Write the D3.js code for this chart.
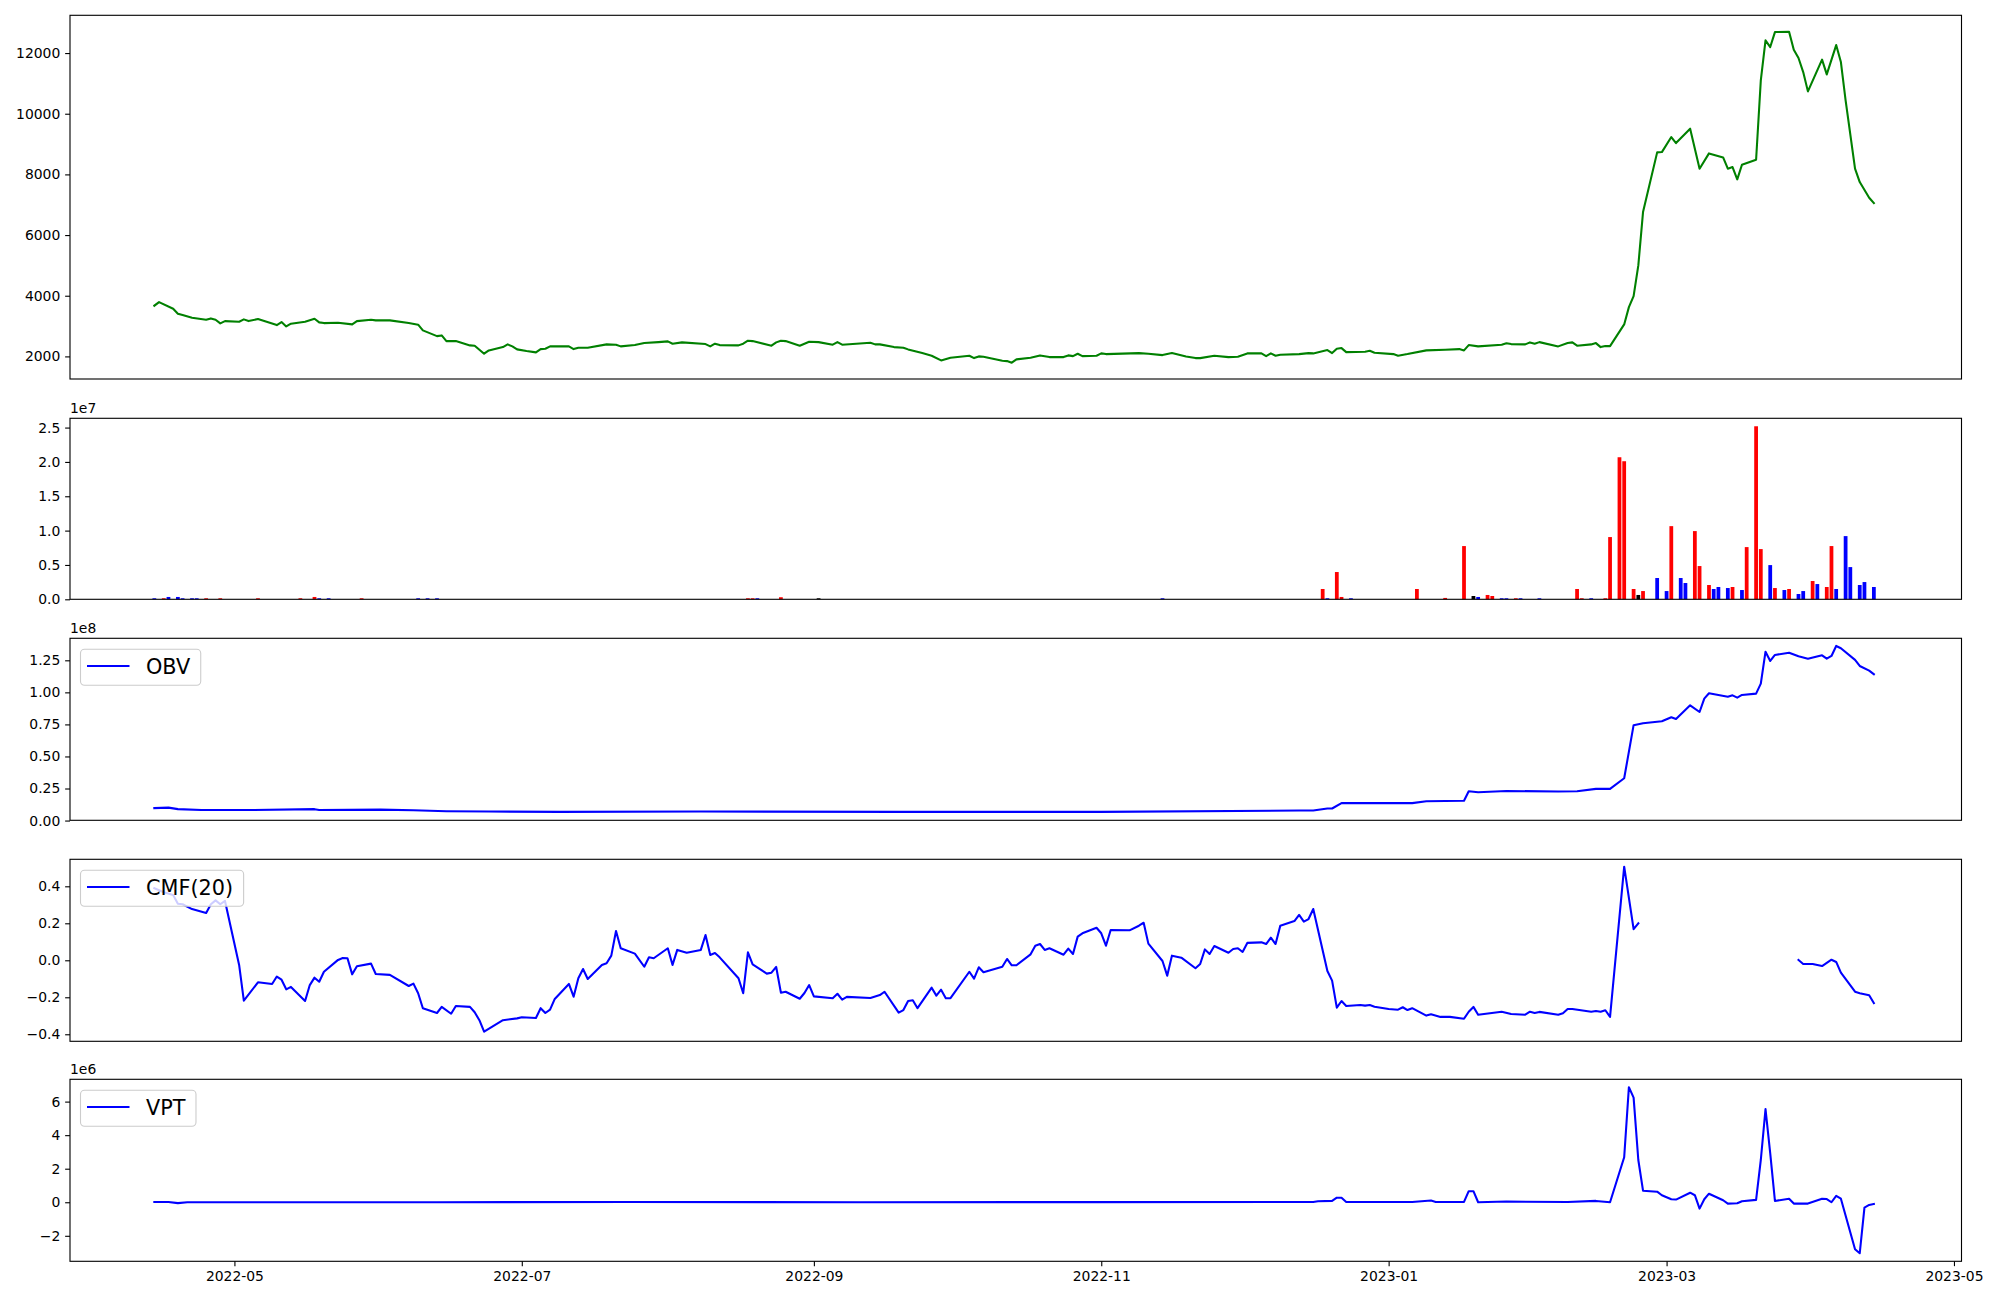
<!DOCTYPE html>
<html><head><meta charset="utf-8">
<script src="https://cdn.jsdelivr.net/npm/d3@7"></script>
<style>body{margin:0;background:#fff}svg{display:block}text{font-family:"DejaVu Sans",sans-serif;fill:#000}</style>
</head><body><svg id="chart" width="2000" height="1300"></svg>
<script>
const startDate = "2022-04-14";
const xTickLabels = ["2022-05","2022-07","2022-09","2022-11","2023-01","2023-03","2023-05"];

const priceDay = [0,1,4,5,6,8,11,12,13,14,15,18,19,20,22,24,26,27,28,29,32,34,35,36,39,42,43,46,47,50,54,56,57,60,61,62,64,67,68,70,71,74,75,76,77,79,81,82,83,84,88,89,90,92,96,98,99,102,104,107,109,110,112,117,118,119,120,124,125,126,127,131,132,133,134,137,139,141,144,145,146,152,153,154,157,159,160,163,165,167,169,173,174,175,176,180,181,182,183,186,188,190,193,194,195,196,197,200,201,202,209,211,214,215,216,219,221,222,225,228,230,232,235,236,237,238,239,243,245,246,249,250,251,252,253,257,258,259,263,264,266,270,274,277,278,279,281,286,287,288,291,292,293,294,298,300,301,302,305,306,307,308,309,312,313,314,315,316,319,320,322,323,326,328,330,333,334,335,336,337,340,341,342,343,344,347,348,349,350,351,354,355,357,358,359,361,362,364,365];
const priceClose = [3672,3790,3572,3408,3362,3276,3209,3253,3209,3088,3164,3144,3220,3164,3230,3131,3032,3131,2989,3078,3144,3243,3121,3098,3111,3055,3164,3209,3187,3187,3098,3045,2857,2669,2692,2504,2504,2363,2353,2089,2198,2307,2396,2330,2231,2175,2132,2241,2254,2330,2330,2241,2287,2287,2396,2386,2330,2373,2439,2471,2495,2419,2462,2406,2330,2419,2373,2363,2419,2518,2504,2353,2462,2518,2504,2353,2485,2471,2386,2471,2386,2452,2396,2396,2307,2287,2231,2109,2023,1868,1957,2023,1944,2000,1990,1858,1845,1792,1901,1957,2033,1977,1977,2033,2010,2089,2010,2023,2099,2076,2109,2089,2043,2076,2109,2000,1944,1944,2023,1977,1990,2099,2099,2010,2099,2023,2056,2076,2109,2099,2208,2109,2254,2274,2142,2155,2188,2122,2076,2023,2076,2198,2221,2241,2198,2373,2330,2386,2435,2406,2396,2462,2419,2471,2330,2439,2462,2353,2396,2439,2307,2340,2340,3055,3625,3988,5000,6757,8726,8736,9231,9033,9507,8188,8693,8561,8188,8241,7836,8320,8485,11100,12418,12198,12692,12705,12112,11836,11373,10737,11782,11297,12264,11703,10440,8188,7747,7232,7054];

// volume in units of 1e7
const volumeDay = [0,2,3,5,6,8,9,11,14,22,31,34,35,37,44,56,58,60,126,127,128,133,141,214,248,249,251,252,254,268,274,278,280,281,283,284,286,287,289,290,294,302,303,305,308,309,311,312,314,315,316,319,321,322,324,325,327,328,330,331,332,334,335,337,338,340,341,343,344,346,347,349,350,352,353,355,356,357,359,360,362,363,365];
const volumeValue = [0.015,0.015,0.034,0.034,0.015,0.015,0.015,0.015,0.015,0.015,0.015,0.034,0.015,0.015,0.015,0.015,0.015,0.015,0.015,0.015,0.015,0.03,0.015,0.015,0.15,0.015,0.397,0.034,0.015,0.15,0.02,0.775,0.048,0.034,0.063,0.048,0.015,0.015,0.015,0.015,0.015,0.15,0.015,0.015,0.015,0.906,2.068,2.01,0.15,0.063,0.12,0.31,0.12,1.065,0.31,0.237,0.993,0.484,0.208,0.15,0.179,0.164,0.179,0.135,0.76,2.519,0.731,0.498,0.164,0.135,0.15,0.077,0.12,0.266,0.222,0.179,0.775,0.15,0.92,0.469,0.208,0.251,0.179];
const volumeColor = ["b","r","b","b","b","b","b","r","r","r","r","r","b","b","r","b","b","b","r","r","b","r","k","b","r","b","r","r","b","r","r","r","k","b","r","r","b","b","r","b","b","r","r","b","r","r","r","r","r","k","r","b","b","r","b","b","r","r","r","b","b","b","r","b","r","r","r","b","r","b","r","b","b","r","b","r","r","b","b","b","b","b","b"];

// OBV in units of 1e8
const obvDay = [0,3,5,10,20,34,35,48,55,62,71,86,116,158,201,243,246,249,250,252,267,270,278,279,281,287,298,302,306,309,312,314,316,320,322,323,326,328,329,330,334,335,336,337,340,341,342,343,344,347,349,351,354,355,356,357,358,361,362,364,365];
const obvValue = [0.097,0.101,0.089,0.083,0.082,0.089,0.082,0.085,0.08,0.073,0.07,0.068,0.07,0.068,0.068,0.078,0.078,0.094,0.094,0.136,0.136,0.151,0.154,0.229,0.221,0.231,0.226,0.229,0.247,0.247,0.33,0.744,0.759,0.775,0.806,0.793,0.899,0.847,0.951,0.993,0.966,0.977,0.959,0.98,0.99,1.068,1.317,1.245,1.292,1.309,1.281,1.263,1.289,1.263,1.284,1.362,1.344,1.253,1.206,1.169,1.141];

const cmfDay = [0,2,4,5,6,8,11,12,13,14,15,18,19,22,25,26,27,28,29,32,33,34,35,36,39,40,41,42,43,46,47,50,54,55,56,57,60,61,63,64,67,68,69,70,74,77,78,81,82,83,84,85,88,89,90,91,92,95,96,97,98,99,102,104,105,106,109,110,111,113,116,117,118,119,120,124,125,126,127,130,131,132,133,134,137,138,139,140,144,145,146,147,152,154,155,158,159,160,161,162,165,166,167,168,169,173,174,175,176,180,181,182,183,186,187,188,189,190,193,194,195,196,197,200,201,202,203,207,209,210,211,214,215,216,218,221,222,223,224,225,228,229,230,231,232,235,236,237,238,239,242,243,244,245,246,249,250,251,252,253,256,257,258,259,262,264,265,266,267,270,271,273,275,278,279,280,281,286,288,291,292,293,294,298,299,300,301,305,306,307,308,309,312,314,315,330,349,350,352,354,356,357,358,361,362,364,365];
const cmfValue = [0.39,0.368,0.353,0.306,0.303,0.277,0.256,0.303,0.324,0.303,0.321,-0.025,-0.218,-0.119,-0.128,-0.088,-0.105,-0.157,-0.144,-0.22,-0.134,-0.094,-0.116,-0.062,0.002,0.012,0.011,-0.076,-0.032,-0.018,-0.074,-0.079,-0.139,-0.126,-0.178,-0.259,-0.285,-0.252,-0.289,-0.247,-0.252,-0.281,-0.324,-0.386,-0.324,-0.314,-0.308,-0.312,-0.259,-0.285,-0.267,-0.209,-0.128,-0.197,-0.097,-0.047,-0.101,-0.025,-0.016,0.025,0.158,0.065,0.036,-0.035,0.016,0.011,0.065,-0.025,0.056,0.041,0.056,0.137,0.029,0.039,0.016,-0.097,-0.178,0.043,-0.022,-0.072,-0.067,-0.036,-0.175,-0.17,-0.208,-0.177,-0.134,-0.195,-0.205,-0.181,-0.213,-0.198,-0.204,-0.188,-0.17,-0.283,-0.269,-0.22,-0.216,-0.259,-0.148,-0.191,-0.159,-0.205,-0.205,-0.062,-0.099,-0.038,-0.065,-0.035,0.007,-0.027,-0.027,0.032,0.079,0.088,0.056,0.065,0.03,0.063,0.034,0.128,0.146,0.176,0.146,0.079,0.164,0.162,0.187,0.203,0.09,-0.004,-0.083,0.025,0.014,-0.043,-0.02,0.059,0.034,0.077,0.041,0.061,0.065,0.045,0.094,0.097,0.088,0.122,0.088,0.187,0.212,0.245,0.209,0.223,0.277,-0.058,-0.11,-0.256,-0.22,-0.247,-0.242,-0.245,-0.242,-0.251,-0.263,-0.267,-0.254,-0.269,-0.259,-0.299,-0.292,-0.306,-0.306,-0.316,-0.278,-0.252,-0.294,-0.278,-0.29,-0.294,-0.278,-0.285,-0.279,-0.294,-0.286,-0.263,-0.263,-0.278,-0.274,-0.278,-0.27,-0.306,0.506,0.168,0.2,null,0.002,-0.02,-0.02,-0.031,0.003,-0.009,-0.067,-0.17,-0.178,-0.189,-0.232];

// VPT in units of 1e6
const vptDay = [0,3,5,7,60,100,150,200,246,247,250,251,252,253,267,271,272,278,279,280,281,287,300,306,309,312,313,314,315,316,319,320,322,323,326,327,328,329,330,333,334,336,337,340,341,342,343,344,347,348,351,354,355,356,357,358,361,362,363,364,365];
const vptValue = [0.02,0.02,-0.05,0.0,0.0,0.02,0.0,0.01,0.02,0.06,0.08,0.27,0.27,0.02,0.02,0.1,0.02,0.02,0.66,0.66,0.0,0.04,0.02,0.08,0.0,2.68,6.86,6.24,2.52,0.69,0.63,0.42,0.18,0.16,0.57,0.42,-0.38,0.18,0.51,0.12,-0.08,-0.06,0.06,0.14,2.52,5.55,2.92,0.08,0.21,-0.08,-0.08,0.21,0.19,0.0,0.38,0.21,-2.8,-3.04,-0.32,-0.16,-0.1];

const base = Date.parse(startDate + "T00:00:00Z");
const toDate = d => new Date(base + d * 86400000);

const svg = d3.select("#chart");
const X0 = 70, X1 = 1961.5;
const x = d3.scaleUtc().domain([toDate(-17.9), toDate(383.6)]).range([X0, X1]);
const LW = 2.08, AXW = 1.11, TL = 4.86, FS = 13.9;
const colorMap = {r: "#ff0000", b: "#0000ff", k: "#000000"};

function makePanel(top, bottom, domain, ticks, fmt, offsetText) {
  const y = d3.scaleLinear().domain(domain).range([bottom, top]);
  const g = svg.append("g");
  const ax = g.append("g").attr("transform", `translate(${X0},0)`)
    .call(d3.axisLeft(y).tickValues(ticks).tickFormat(fmt).tickSize(TL).tickPadding(4.86).tickSizeOuter(0));
  ax.select(".domain").remove();
  ax.selectAll(".tick line").attr("stroke", "#000").attr("stroke-width", AXW);
  ax.selectAll(".tick text").attr("font-size", FS).attr("font-family", "DejaVu Sans").attr("fill", "#000");
  if (offsetText) {
    g.append("text").attr("x", X0).attr("y", top - 5.6).attr("font-size", FS).text(offsetText);
  }
  return {y, g, top, bottom};
}
function frame(p) {
  p.g.append("rect").attr("x", X0).attr("y", p.top).attr("width", X1 - X0).attr("height", p.bottom - p.top)
    .attr("fill", "none").attr("stroke", "#000").attr("stroke-width", AXW);
}
function drawLine(p, days, vals, color) {
  const data = days.map((d, i) => ({t: toDate(d), v: vals[i]}));
  const line = d3.line().defined(d => d.v !== null).x(d => x(d.t)).y(d => p.y(d.v));
  p.g.append("path").datum(data).attr("d", line).attr("fill", "none").attr("stroke", color)
    .attr("stroke-width", LW).attr("stroke-linejoin", "round").attr("stroke-linecap", "square");
}
function legend(p, label) {
  const fs = 20.8;
  const bx = 80.5, by = p.top + 11;
  const lg = p.g.append("g");
  const rect = lg.append("rect").attr("x", bx).attr("y", by).attr("height", 36).attr("rx", 4)
    .attr("fill", "#fff").attr("fill-opacity", 0.8).attr("stroke", "#cccccc").attr("stroke-width", 1.1);
  lg.append("line").attr("x1", 87).attr("x2", 129.5).attr("y1", by + 16.7).attr("y2", by + 16.7)
    .attr("stroke", "#0000ff").attr("stroke-width", LW);
  const t = lg.append("text").attr("x", 146).attr("y", by + 24.5).attr("font-size", fs).text(label);
  const w = t.node().getComputedTextLength();
  rect.attr("width", 146 + w + 10.5 - bx);
}

// Panel 1: price
const p1 = makePanel(15.3, 379, [1255, 13245], [2000,4000,6000,8000,10000,12000], d3.format("d"), null);
drawLine(p1, priceDay, priceClose, "#008000");
frame(p1);

// Panel 2: volume
const p2 = makePanel(418.3, 599.3, [0, 2.635], [0,0.5,1.0,1.5,2.0,2.5], d3.format(".1f"), "1e7");
const bw = x(toDate(0.8)) - x(toDate(0));
p2.g.selectAll("rect.bar").data(volumeDay.map((d, i) => ({t: toDate(d), v: volumeValue[i], c: volumeColor[i]})))
  .enter().append("rect").attr("class", "bar")
  .attr("x", d => x(d.t) - bw / 2).attr("width", bw)
  .attr("y", d => p2.y(d.v)).attr("height", d => p2.y(0) - p2.y(d.v))
  .attr("fill", d => colorMap[d.c]);
frame(p2);

// Panel 3: OBV
const p3 = makePanel(638.3, 820.3, [0.002, 1.4217], [0,0.25,0.5,0.75,1.0,1.25], d3.format(".2f"), "1e8");
drawLine(p3, obvDay, obvValue, "#0000ff");
frame(p3);
legend(p3, "OBV");

// Panel 4: CMF
const p4 = makePanel(859.3, 1041.3, [-0.438, 0.546], [-0.4,-0.2,0,0.2,0.4], d3.format(".1f"), null);
drawLine(p4, cmfDay, cmfValue, "#0000ff");
frame(p4);
legend(p4, "CMF(20)");

// Panel 5: VPT
const p5 = makePanel(1079.3, 1261.3, [-3.52, 7.33], [-2,0,2,4,6], d3.format("d"), "1e6");
drawLine(p5, vptDay, vptValue, "#0000ff");
frame(p5);
legend(p5, "VPT");

// Bottom x axis
const xTickDates = xTickLabels.map(s => new Date(Date.parse(s + "-01T00:00:00Z")));
const xa = svg.append("g").attr("transform", `translate(0,${p5.bottom})`)
  .call(d3.axisBottom(x).tickValues(xTickDates).tickFormat((d, i) => xTickLabels[i]).tickSize(TL).tickPadding(4.86).tickSizeOuter(0));
xa.select(".domain").remove();
xa.selectAll(".tick line").attr("stroke", "#000").attr("stroke-width", AXW);
xa.selectAll(".tick text").attr("font-size", FS).attr("font-family", "DejaVu Sans").attr("fill", "#000");
</script></body></html>
